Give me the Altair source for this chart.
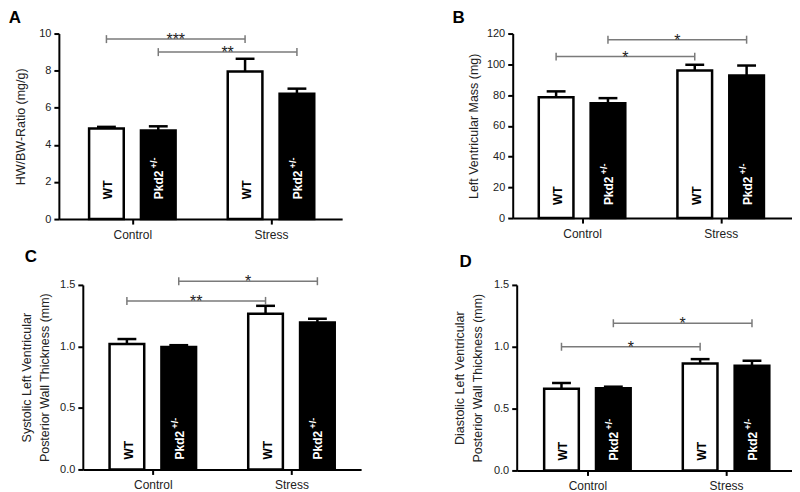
import json
import altair as alt
import pandas as pd

FONT = "Liberation Sans"

groups = ["Control", "Stress"]
genotypes = ["WT", "Pkd2+/-"]

# order of values: Control-WT, Control-Pkd2, Stress-WT, Stress-Pkd2
hwbw_mean = [4.88, 4.78, 7.96, 6.76]
hwbw_sem = [0.09, 0.22, 0.68, 0.27]
lvm_mean = [78.5, 74.6, 96.0, 92.7]
lvm_sem = [3.9, 3.4, 3.7, 6.5]
sys_mean = [1.02, 0.995, 1.265, 1.195]
sys_sem = [0.04, 0.015, 0.065, 0.03]
dia_mean = [0.66, 0.664, 0.865, 0.847]
dia_sem = [0.047, 0.013, 0.035, 0.04]

# significance brackets: compared genotype (Control vs Stress), height, label
hwbw_sig_geno = ["WT", "Pkd2+/-"]
hwbw_sig_y = [9.7, 9.0]
hwbw_sig_lab = ["***", "**"]
lvm_sig_geno = ["WT", "Pkd2+/-"]
lvm_sig_y = [105, 116]
lvm_sig_lab = ["*", "*"]
sys_sig_geno = ["WT", "Pkd2+/-"]
sys_sig_y = [1.37, 1.53]
sys_sig_lab = ["**", "*"]
dia_sig_geno = ["WT", "Pkd2+/-"]
dia_sig_y = [1.0, 1.19]
dia_sig_lab = ["*", "*"]

OFF = 0.187
HALF_BAR = 0.125
HALF_CAP = 0.068
PX_PER_GROUP = 139.0


def panel(letter, means, sems, sig_geno, sig_y, sig_lab, ytitle, ymax, yvalues,
          yfmt, width, height, xmin, label_dx, letter_dx, letter_offset, title_pad,
          inset=0):
    rows = []
    i = 0
    for g in groups:
        for t in genotypes:
            rows.append({"group": g, "genotype": t, "mean": means[i],
                         "upper": means[i] + sems[i]})
            i += 1
    df = pd.DataFrame(rows)
    sdf = pd.DataFrame({"genotype": sig_geno, "y": sig_y, "label": sig_lab})

    gexpr = "indexof(%s, datum.group)" % json.dumps(groups)
    offexpr = "datum.genotype == '%s' ? %f : %f" % (genotypes[0], -OFF, OFF)

    lo = xmin - inset / PX_PER_GROUP
    xs = alt.Scale(domain=[lo, lo + (width + inset) / PX_PER_GROUP], nice=False, zero=False)
    ys = alt.Scale(domain=[0, ymax], nice=False)
    xaxis_kw = dict(values=[0, 1], labelExpr="%s[datum.value]" % json.dumps(groups),
                    title=None, tickSize=5, labelPadding=5, labelFontSize=12,
                    grid=False)
    if inset:
        xaxis_kw["domainDash"] = [0, inset, 1000, 0]
    xaxis = alt.Axis(**xaxis_kw)
    yaxis = alt.Axis(values=yvalues, format=yfmt, title=ytitle, tickSize=5,
                     labelPadding=3, titlePadding=title_pad, titleLineHeight=18,
                     offset=-inset, grid=False)

    def X(f):
        return alt.X(f, scale=xs, axis=xaxis)

    def Y(f):
        return alt.Y(f, scale=ys, axis=yaxis)

    base = alt.Chart(df).transform_calculate(
        gi=gexpr, off=offexpr
    ).transform_calculate(
        cx="datum.gi + datum.off",
        x0="datum.gi + datum.off - %f" % HALF_BAR,
        x1="datum.gi + datum.off + %f" % HALF_BAR,
        c0="datum.gi + datum.off - %f" % HALF_CAP,
        c1="datum.gi + datum.off + %f" % HALF_CAP,
        zero="0",
    )

    err = base.mark_rule(color="black", strokeWidth=2.5).encode(
        x=X("cx:Q"), y=Y("mean:Q"), y2="upper:Q",
    )
    cap = base.mark_rule(color="black", strokeWidth=2.5).encode(
        x=X("c0:Q"), x2="c1:Q", y=Y("upper:Q"),
    )
    bars = base.mark_rect(stroke="black", strokeWidth=2.5).encode(
        x=X("x0:Q"), x2="x1:Q", y=Y("mean:Q"), y2="zero:Q",
        fill=alt.Fill("genotype:N", scale=alt.Scale(domain=genotypes, range=["white", "black"]),
                      legend=None),
    )
    wt_lab = base.transform_filter("datum.genotype == '%s'" % genotypes[0]).mark_text(
        angle=270, align="left", baseline="middle", dx=label_dx, dy=2,
        fontSize=12, fontWeight="bold", font=FONT, color="black",
    ).encode(x=X("cx:Q"), y=Y("zero:Q"), text="genotype:N")
    pk_main = base.transform_filter("datum.genotype != '%s'" % genotypes[0]).transform_calculate(
        lab="slice(datum.genotype, 0, 4)"
    ).mark_text(
        angle=270, align="left", baseline="middle", dx=label_dx, dy=1,
        fontSize=12, fontWeight="bold", font=FONT, color="white",
    ).encode(x=X("cx:Q"), y=Y("zero:Q"), text="lab:N")
    pk_sup = base.transform_filter("datum.genotype != '%s'" % genotypes[0]).transform_calculate(
        lab="slice(datum.genotype, 4)"
    ).mark_text(
        angle=270, align="left", baseline="middle", dx=label_dx + 31, dy=-4,
        fontSize=9, fontWeight="bold", font=FONT, color="white",
    ).encode(x=X("cx:Q"), y=Y("zero:Q"), text="lab:N")

    sbase = alt.Chart(sdf).transform_calculate(off=offexpr).transform_calculate(
        xs="0 + datum.off", xe="1 + datum.off", xm="0.5 + datum.off"
    )
    srule = sbase.mark_rule(color="#7a7a7a", strokeWidth=1.5).encode(
        x=X("xs:Q"), x2="xe:Q", y=Y("y:Q"),
    )
    scaps = sbase.transform_fold(["xs", "xe"], as_=["end", "xp"]).mark_point(
        shape="M0,-1L0,1", size=64, stroke="#7a7a7a", strokeWidth=1.5,
        filled=False, opacity=1,
    ).encode(x=X("xp:Q"), y=Y("y:Q"))
    stars = sbase.mark_text(baseline="alphabetic", dy=6, fontSize=16, font=FONT,
                            color="#222222").encode(
        x=X("xm:Q"), y=Y("y:Q"), text="label:N",
    )

    return alt.layer(err, cap, bars, wt_lab, pk_main, pk_sup, srule, scaps, stars).properties(
        width=width + inset, height=height,
        title=alt.TitleParams(letter, anchor="start", frame="bounds", dx=letter_dx,
                              offset=letter_offset, fontSize=17, fontWeight="bold",
                              font=FONT, color="black"),
    )


pA = panel("A", hwbw_mean, hwbw_sem, hwbw_sig_geno, hwbw_sig_y, hwbw_sig_lab,
           "HW/BW-Ratio (mg/g)", 10, [0, 2, 4, 6, 8, 10], "d",
           284, 186, -0.53, 20, -6, 1, 11)
pB = panel("B", lvm_mean, lvm_sem, lvm_sig_geno, lvm_sig_y, lvm_sig_lab,
           "Left Ventricular Mass (mg)", 120, [0, 20, 40, 60, 80, 100, 120], "d",
           280, 185, -0.50, 13, -15, 1, 6)
pC = panel("C", sys_mean, sys_sem, sys_sig_geno, sys_sig_y, sys_sig_lab,
           ["Systolic Left Ventricular", "Posterior Wall Thickness (mm)"], 1.5,
           [0, 0.5, 1.0, 1.5], ".1f", 279, 185, -0.505, 10, 4, 8, 8, inset=24)
pD = panel("D", dia_mean, dia_sem, dia_sig_geno, dia_sig_y, dia_sig_lab,
           ["Diastolic Left Ventricular", "Posterior Wall Thickness (mm)"], 1.5,
           [0, 0.5, 1.0, 1.5], ".1f", 276, 186, -0.51, 10, 6, 8, 9)

top = alt.hconcat(pA, pB, spacing=110)
bottom = alt.hconcat(pC, pD, spacing=92)
chart = alt.vconcat(top, bottom, spacing=8).properties(
    padding={"left": 0, "top": 0, "right": 0, "bottom": 0}
).configure_view(stroke=None).configure_axis(
    domainColor="black", domainWidth=2, tickColor="black", tickWidth=2,
    labelFont=FONT, titleFont=FONT, labelFontSize=11, titleFontSize=12.5,
    labelColor="#222222", titleColor="#222222", titleFontWeight="normal",
)

chart.save("out.html", embed_options={"renderer": "svg", "actions": False})
